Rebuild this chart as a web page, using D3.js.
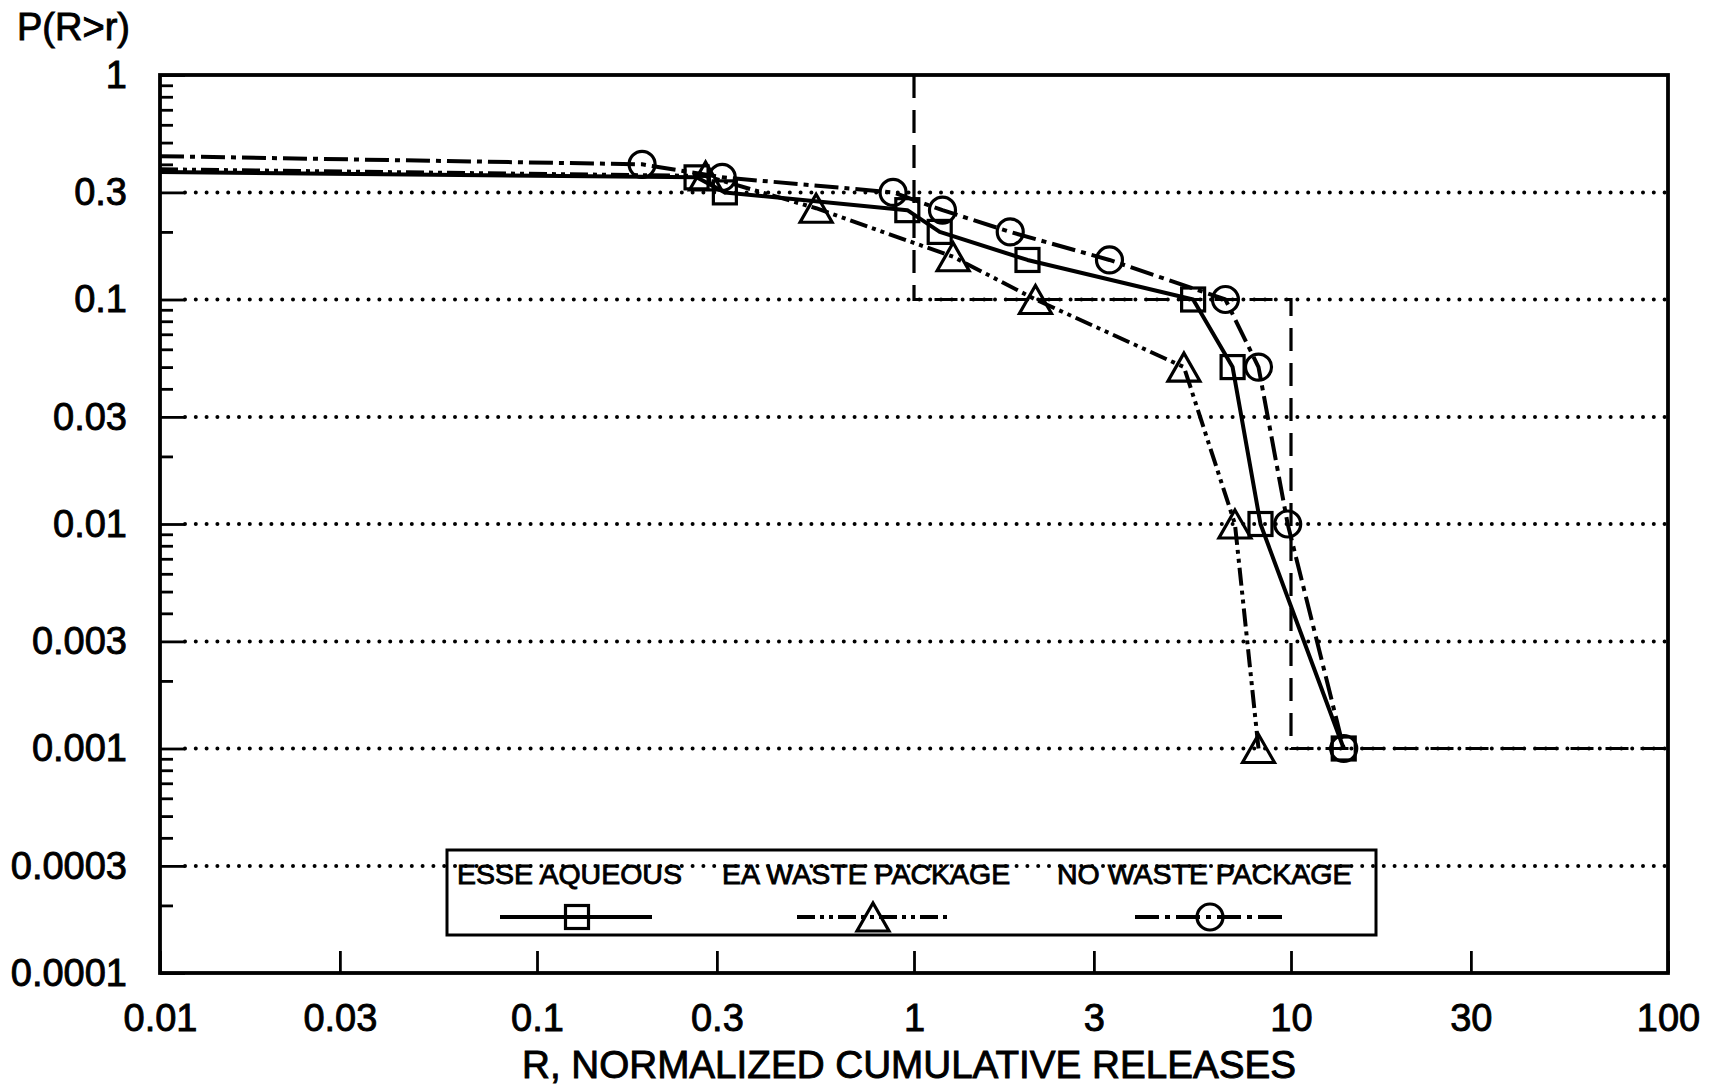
<!DOCTYPE html>
<html>
<head>
<meta charset="utf-8">
<script src="https://cdn.jsdelivr.net/npm/d3@7"></script>
<style>
  body { margin: 0; background: #fff; }
  text { font-family: "Liberation Sans", Arial, Helvetica, sans-serif; fill: #000; }
</style>
</head>
<body>
<div id="chart"></div>
<script>
var svgWidth = 1712;
var svgHeight = 1087;

var margin = { top: 75, right: 44, bottom: 114, left: 160 };
var width = svgWidth - margin.left - margin.right;
var height = svgHeight - margin.top - margin.bottom;

// Data: R (normalized release) and P(R>r)
var esseR = [0.01, 0.265, 0.315, 0.96, 1.17, 2.0, 5.5, 7.0, 8.3, 13.8];
var esseP = [0.37, 0.35, 0.30, 0.25, 0.20, 0.15, 0.10, 0.05, 0.01, 0.001];
var eaR = [0.01, 0.28, 0.55, 1.27, 2.1, 5.2, 7.1, 8.2];
var eaP = [0.38, 0.355, 0.255, 0.155, 0.10, 0.05, 0.01, 0.001];
var noR = [0.01, 0.19, 0.31, 0.88, 1.19, 1.8, 3.3, 6.7, 8.2, 9.8, 13.8];
var noP = [0.435, 0.40, 0.35, 0.30, 0.25, 0.20, 0.15, 0.10, 0.05, 0.01, 0.001];

// stepped release limit (dashed)
var limitR = [1, 1, 10, 10, 100];
var limitP = [1, 0.1, 0.1, 0.001, 0.001];

var xTicks = [0.01, 0.03, 0.1, 0.3, 1, 3, 10, 30, 100];
var xTickLabels = ["0.01", "0.03", "0.1", "0.3", "1", "3", "10", "30", "100"];
var yTicks = [1, 0.3, 0.1, 0.03, 0.01, 0.003, 0.001, 0.0003, 0.0001];
var yTickLabels = ["1", "0.3", "0.1", "0.03", "0.01", "0.003", "0.001", "0.0003", "0.0001"];
var yGrid = [0.3, 0.1, 0.03, 0.01, 0.003, 0.001, 0.0003];
var seriesNames = ["ESSE AQUEOUS", "EA WASTE PACKAGE", "NO WASTE PACKAGE"];

var svg = d3.select("#chart")
  .append("svg")
  .attr("width", svgWidth)
  .attr("height", svgHeight);

var chartGroup = svg.append("g")
  .attr("transform", `translate(${margin.left}, ${margin.top})`);

var xLogScale = d3.scaleLog().domain([0.01, 100]).range([0, width]);
var yLogScale = d3.scaleLog().domain([0.0001, 1]).range([height, 0]);

// minor ticks 2..9 per decade (3 is a gridline)
var yMinor = [];
[0.0001, 0.001, 0.01, 0.1].forEach(function(dec) {
  [2, 4, 5, 6, 7, 8, 9].forEach(function(k) { yMinor.push(k * dec); });
});

// dotted gridlines
chartGroup.selectAll(".grid")
  .data(yGrid)
  .enter()
  .append("line")
  .attr("x1", 25)
  .attr("x2", width)
  .attr("y1", d => yLogScale(d))
  .attr("y2", d => yLogScale(d))
  .attr("stroke", "#000")
  .attr("stroke-width", 4)
  .attr("stroke-linecap", "round")
  .attr("stroke-dasharray", "0,10.8");

// axes
var yMajorAxis = d3.axisLeft(yLogScale)
  .tickValues(yTicks)
  .tickSize(-25)
  .tickPadding(33)
  .tickFormat((d, i) => yTickLabels[i]);

var yMinorAxis = d3.axisLeft(yLogScale)
  .tickValues(yMinor)
  .tickSize(-13)
  .tickFormat("");

var xAxis = d3.axisBottom(xLogScale)
  .tickValues(xTicks)
  .tickSize(-22)
  .tickPadding(31)
  .tickFormat((d, i) => xTickLabels[i]);

[chartGroup.append("g").call(yMajorAxis),
 chartGroup.append("g").call(yMinorAxis),
 chartGroup.append("g").attr("transform", `translate(0, ${height})`).call(xAxis)
].forEach(function(g) {
  g.select(".domain").remove();
  g.selectAll("line").attr("stroke", "#000").attr("stroke-width", 2.8);
  g.selectAll("text")
    .style("font-family", "'Liberation Sans', Arial, sans-serif")
    .style("font-size", "38px")
    .attr("fill", "#000")
    .attr("stroke", "#000")
    .attr("stroke-width", 0.9);
});

// frame
chartGroup.append("rect")
  .attr("x", 0)
  .attr("y", 0)
  .attr("width", width)
  .attr("height", height)
  .attr("fill", "none")
  .attr("stroke", "#000")
  .attr("stroke-width", 3.8);

// release limit
var limitLine = d3.line()
  .x(d => xLogScale(d[0]))
  .y(d => yLogScale(d[1]));

chartGroup.append("path")
  .datum(limitR.map((r, i) => [r, limitP[i]]))
  .attr("d", limitLine)
  .attr("fill", "none")
  .attr("stroke", "#000")
  .attr("stroke-width", 3.2)
  .attr("stroke-dasharray", "23,12");

// series
var series = [
  { name: seriesNames[0], r: esseR, p: esseP, dash: null, marker: "square" },
  { name: seriesNames[1], r: eaR, p: eaP, dash: "18,5,4,5,4,5", marker: "triangle" },
  { name: seriesNames[2], r: noR, p: noP, dash: "24,6,5,6", marker: "circle" }
];

var seriesLine = d3.line()
  .x(d => xLogScale(d[0]))
  .y(d => yLogScale(d[1]));

function drawMarker(g, type, cx, cy) {
  if (type === "square") {
    g.append("rect")
      .attr("x", cx - 11.5).attr("y", cy - 11.5)
      .attr("width", 23).attr("height", 23)
      .attr("fill", "none").attr("stroke", "#000").attr("stroke-width", 3.2);
  } else if (type === "triangle") {
    g.append("path")
      .attr("d", `M${cx},${cy - 14}L${cx + 16},${cy + 14}L${cx - 16},${cy + 14}Z`)
      .attr("fill", "none").attr("stroke", "#000").attr("stroke-width", 3.2)
      .attr("stroke-linejoin", "miter");
  } else {
    g.append("circle")
      .attr("cx", cx).attr("cy", cy).attr("r", 13)
      .attr("fill", "none").attr("stroke", "#000").attr("stroke-width", 3.2);
  }
}

series.forEach(function(s) {
  var pts = s.r.map((r, i) => [r, s.p[i]]);
  chartGroup.append("path")
    .datum(pts)
    .attr("d", seriesLine)
    .attr("fill", "none")
    .attr("stroke", "#000")
    .attr("stroke-width", 4)
    .attr("stroke-linejoin", "round")
    .attr("stroke-dasharray", s.dash);
});

series.forEach(function(s) {
  var mg = chartGroup.append("g");
  // first point is where the curve leaves the left axis, no marker there
  s.r.forEach(function(r, i) {
    if (i === 0) return;
    drawMarker(mg, s.marker, xLogScale(r), yLogScale(s.p[i]));
  });
});

// legend
var legend = svg.append("g");
legend.append("rect")
  .attr("x", 447)
  .attr("y", 850)
  .attr("width", 929)
  .attr("height", 85)
  .attr("fill", "none")
  .attr("stroke", "#000")
  .attr("stroke-width", 3);

var legendText = [457, 722, 1057];
var legendSample = [[500, 652, 577], [797, 950, 873], [1135, 1285, 1210]];

series.forEach(function(s, i) {
  var t = legend.append("text")
    .attr("x", legendText[i])
    .attr("y", 884)
    .style("font-size", "28.5px")
    .attr("stroke", "#000")
    .attr("stroke-width", 0.9)
    .text(s.name);
  var bb = t.node().getBBox();
  legend.insert("rect", "text")
    .attr("x", bb.x)
    .attr("y", 868)
    .attr("width", bb.width)
    .attr("height", 18)
    .attr("fill", "#fff");

  legend.append("line")
    .attr("x1", legendSample[i][0])
    .attr("x2", legendSample[i][1])
    .attr("y1", 917)
    .attr("y2", 917)
    .attr("stroke", "#000")
    .attr("stroke-width", 4)
    .attr("stroke-dasharray", s.dash);
  drawMarker(legend, s.marker, legendSample[i][2], 917);
});

// axis titles
svg.append("text")
  .attr("x", 17)
  .attr("y", 40)
  .style("font-size", "38px")
  .attr("stroke", "#000")
  .attr("stroke-width", 0.9)
  .text("P(R>r)");

svg.append("text")
  .attr("x", 909)
  .attr("y", 1078)
  .attr("text-anchor", "middle")
  .attr("textLength", 774)
  .attr("lengthAdjust", "spacingAndGlyphs")
  .style("font-size", "38px")
  .attr("stroke", "#000")
  .attr("stroke-width", 0.9)
  .text("R, NORMALIZED CUMULATIVE RELEASES");
</script>
</body>
</html>
